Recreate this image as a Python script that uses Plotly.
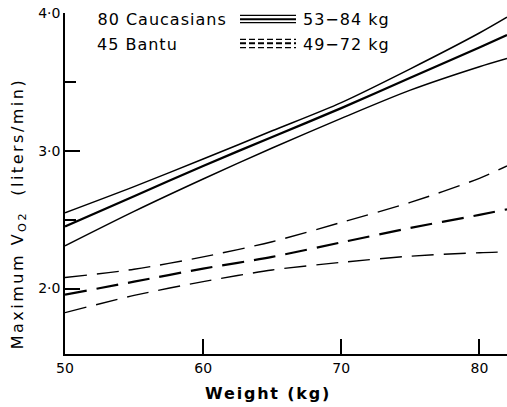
import plotly.graph_objects as go

# ---- data ----
weight_kg = [50, 55, 60, 65, 70, 75, 80, 82]

cauc_upper = [2.55, 2.74, 2.94, 3.145, 3.35, 3.595, 3.855, 3.97]
cauc_mean = [2.45, 2.67, 2.89, 3.10, 3.31, 3.53, 3.75, 3.84]
cauc_lower = [2.31, 2.56, 2.795, 3.02, 3.235, 3.44, 3.61, 3.67]

bantu_upper = [2.08, 2.14, 2.23, 2.34, 2.48, 2.625, 2.80, 2.89]
bantu_mean = [1.956, 2.05, 2.145, 2.23, 2.335, 2.44, 2.535, 2.575]
bantu_lower = [1.825, 1.95, 2.05, 2.135, 2.19, 2.235, 2.26, 2.266]

y_tickvals = [2, 3, 4]
y_ticktext = ["2·0", "3·0", "4·0"]
y_minor = [2.5, 3.5]
x_tickvals = [50, 60, 70, 80]
x_ticktext = ["50", "60", "70", "80"]

legend_labels = ["80 Caucasians", "45 Bantu"]
legend_ranges = ["53−84 kg", "49−72 kg"]

# ---- layout geometry ----
W, H = 507, 407
L, R, T, B = 65, 0, 13, 53
FONT = "DejaVu Sans"
LEG_LS = 1.0  # letter spacing (px) for legend texts


def px_x(p):
    return (p - L) / (W - L - R)


def px_y(p):
    return (H - B - p) / (H - T - B)


fig = go.Figure()

DASH = "22px,10px"
series = [
    (cauc_upper, "solid", 1.5),
    (cauc_mean, "solid", 2.3),
    (cauc_lower, "solid", 1.5),
    (bantu_upper, DASH, 1.4),
    (bantu_mean, DASH, 2.2),
    (bantu_lower, DASH, 1.4),
]
for ys, dash, w in series:
    fig.add_trace(go.Scatter(
        x=weight_kg, y=ys, mode="lines",
        line=dict(color="black", width=w, dash=dash, shape="spline", smoothing=0.8),
        showlegend=False, hoverinfo="skip",
    ))

shapes = []
# legend keys: triple lines
key_x0, key_x1 = px_x(240), px_x(296)
for ys_px, dash in [((15.3, 19.3, 22.7), "solid"), ((39.3, 43.3, 47.7), "6px,3px")]:
    for i, yp in enumerate(ys_px):
        shapes.append(dict(
            type="line", xref="paper", yref="paper",
            x0=key_x0, x1=key_x1, y0=px_y(yp), y1=px_y(yp),
            line=dict(color="black", width=2 if i == 1 else 1.2, dash=dash),
        ))

annotations = []
for lab, rng, yp in zip(legend_labels, legend_ranges, (19.5, 44)):
    # compensate for symmetric spreading by letter spacing
    annotations.append(dict(
        text=lab, x=px_x(95 + len(lab) * LEG_LS / 2), y=px_y(yp),
        xref="paper", yref="paper",
        xanchor="left", yanchor="middle", showarrow=False,
        font=dict(family=FONT, size=16, color="black"),
    ))
    annotations.append(dict(
        text=rng, x=px_x(301 + len(rng) * LEG_LS / 2), y=px_y(yp),
        xref="paper", yref="paper",
        xanchor="left", yanchor="middle", showarrow=False,
        font=dict(family=FONT, size=16, color="black"),
    ))

# axis titles
annotations.append(dict(
    text="<b>Weight (kg)</b>", x=px_x(268), y=px_y(394), xref="paper", yref="paper",
    xanchor="center", yanchor="middle", showarrow=False,
    font=dict(family=FONT, size=16, color="black"),
))
annotations.append(dict(
    text="Maximum V<sub>O2</sub>  (liters/min)", x=px_x(19), y=px_y(214),
    xref="paper", yref="paper", textangle=-90,
    xanchor="center", yanchor="middle", showarrow=False,
    font=dict(family=FONT, size=16, color="black"),
))

fig.update_layout(
    width=W, height=H,
    margin=dict(l=L, r=R, t=T, b=B, pad=0),
    paper_bgcolor="white", plot_bgcolor="white",
    font=dict(family=FONT, color="black"),
    shapes=shapes, annotations=annotations,
    xaxis=dict(
        range=[50, 82], tickvals=x_tickvals, ticktext=x_ticktext,
        ticks="inside", ticklen=15, tickwidth=1.5, tickcolor="black",
        showline=True, linewidth=1.5, linecolor="black",
        showgrid=False, zeroline=False,
        tickfont=dict(family=FONT, size=14, color="black"),
    ),
    yaxis=dict(
        range=[1.525, 4.0], tickvals=y_tickvals, ticktext=y_ticktext,
        ticks="inside", ticklen=15, tickwidth=1.5, tickcolor="black",
        showline=True, linewidth=1.5, linecolor="black",
        showgrid=False, zeroline=False,
        tickfont=dict(family=FONT, size=14, color="black"),
        minor=dict(tickvals=y_minor, ticks="inside", ticklen=11,
                   tickwidth=1.5, tickcolor="black"),
    ),
)

post = """
document.body.style.margin='0';
document.body.style.overflow='hidden';
document.querySelectorAll('.annotation-text').forEach(function(t){
  var s = t.textContent;
  var ls = '%spx';
  if (s.indexOf('Weight') >= 0) ls = '1.8px';
  else if (s.indexOf('Maximum') >= 0) ls = '2.5px';
  t.style.letterSpacing = ls;
});
""" % LEG_LS

fig.write_html("out.html", post_script=post, config={"displayModeBar": False})
